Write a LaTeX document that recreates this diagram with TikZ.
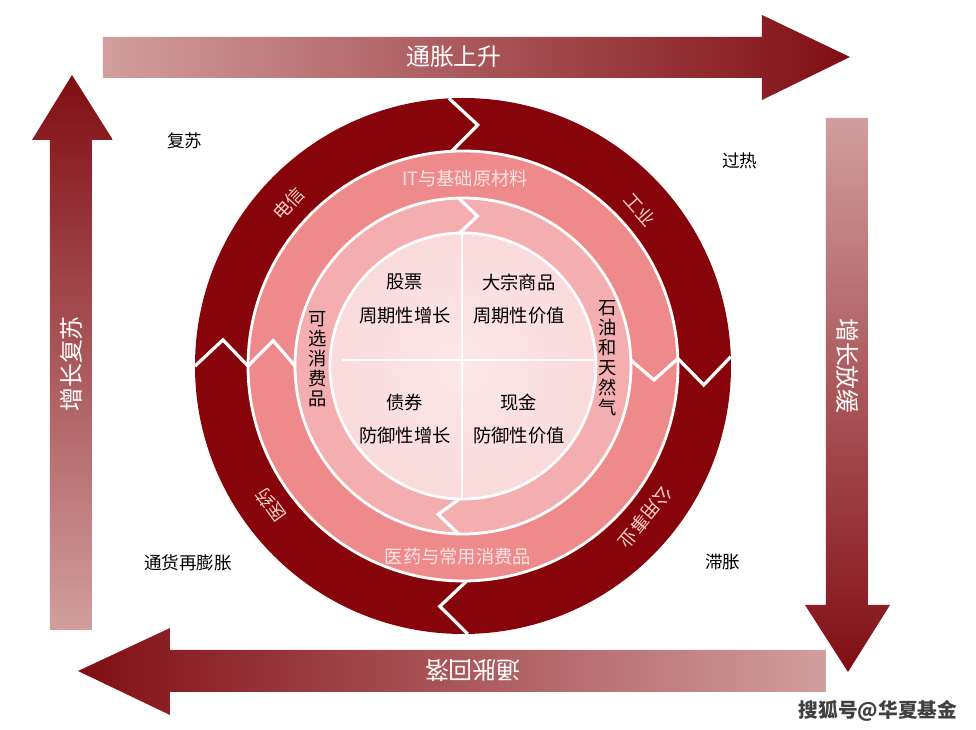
\documentclass[tikz,border=0pt]{standalone}
\usepackage{fontspec}
\newfontfamily\cjk{Noto Sans CJK SC}

\definecolor{ringdark}{RGB}{135,5,10}
\definecolor{ringmid}{RGB}{238,138,140}
\definecolor{ringin}{RGB}{244,174,176}
\definecolor{discpink}{RGB}{248,204,206}
\definecolor{disccore}{RGB}{252,232,232}
\definecolor{arrowlight}{RGB}{210,158,158}
\definecolor{arrowmid}{RGB}{178,112,115}
\definecolor{arrowdark}{RGB}{128,14,20}
\definecolor{ringtext}{RGB}{246,208,196}
\definecolor{bandtext}{RGB}{253,228,228}

\pgfdeclareradialshading{discglow}{\pgfpoint{0bp}{0bp}}{color(0bp)=(disccore); color(50bp)=(discpink)}

\begin{document}
\begin{tikzpicture}[
    x=0.025cm, y=0.025cm,
    quad/.style={font=\cjk\fontsize{13}{24}\selectfont, text=black, align=center},
    column/.style={font=\cjk\fontsize{13}{14.2}\selectfont, text=black, align=center},
    ringlabel/.style={font=\cjk\fontsize{13}{15}\selectfont, text=ringtext},
    bandlabel/.style={font=\cjk\fontsize{13}{15}\selectfont, text=bandtext},
    phase/.style={font=\cjk\fontsize{12.5}{15}\selectfont, text=black},
    flowlabel/.style={font=\cjk\fontsize{17}{20}\selectfont, text=white},
    notch/.style={draw=white, line width=2.3pt, line join=miter},
    sep/.style={draw=white, line width=2pt}
]
    \useasboundingbox (-463,-364) rectangle (513,366);

    % Flow arrows
    \shade[left color=arrowlight, middle color=arrowmid, right color=arrowdark]
        (-360,288) -- (299,288) -- (299,266) -- (387,309) -- (299,351) -- (299,329) -- (-360,329) -- cycle;
    \shade[top color=arrowlight, middle color=arrowmid, bottom color=arrowdark]
        (363,248) -- (405,248) -- (405,-239) -- (427,-239) -- (385,-306) -- (342,-239) -- (363,-239) -- cycle;
    \shade[right color=arrowlight, middle color=arrowmid, left color=arrowdark]
        (363,-284) -- (-293,-284) -- (-293,-262) -- (-385,-305) -- (-293,-349) -- (-293,-326) -- (363,-326) -- cycle;
    \shade[bottom color=arrowlight, middle color=arrowmid, top color=arrowdark]
        (-413,-264) -- (-371,-264) -- (-371,226) -- (-350,226) -- (-391,291) -- (-431,226) -- (-413,226) -- cycle;

    \node[flowlabel] (up) at (-9,309) {通胀上升};
    \node[flowlabel, rotate=-90] (slow) at (385,0) {增长放缓};
    \node[flowlabel, rotate=180] (down) at (10,-305) {通胀回落};
    \node[flowlabel, rotate=90] (recover) at (-392,2) {增长复苏};

    % Rings
    \fill[ringdark, even odd rule] (0,0) circle (268) (0,0) circle (215);
    \fill[ringmid, even odd rule] (0,0) circle (215) (0,0) circle (168);
    \fill[ringin, even odd rule] (0,0) circle (168) (0,0) circle (133);
    \shade[shading=discglow] (0,0) circle (133);
    \draw[sep] (0,0) circle (215) (0,0) circle (168) (0,0) circle (133);

    % Notches
    \draw[notch] (93:268) -- (86.5:241.5) -- (93:215);
    \draw[notch] (180:268) -- (173.8:241.5) -- (180:215);
    \draw[notch] (2:268) -- (-4.5:241.5) -- (2:215);
    \draw[notch] (271:268) -- (264.5:241.5) -- (271:215);
    \draw[notch] (180:215) -- (172.4:191.5) -- (180:168);
    \draw[notch] (2:215) -- (-4.2:191.5) -- (2:168);
    \draw[notch] (91.5:168) -- (84.5:150.5) -- (91.5:133);
    \draw[notch] (268.5:168) -- (260.5:150.5) -- (268.5:133);

    % Quadrants
    \draw[sep] (-121,6) -- (132,6);
    \draw[sep] (-1,133) -- (-1,-132);
    \node[quad] (stock) at (-58,67) {股票\\周期性增长};
    \node[quad] (commod) at (56,67) {大宗商品\\周期性价值};
    \node[quad] (bond) at (-58,-53) {债券\\防御性增长};
    \node[quad] (cash) at (56,-53) {现金\\防御性价值};

    % Sector labels
    \node[column] (consumer) at (-145,7) {可\\选\\消\\费\\品};
    \node[column] (energy) at (145,8) {石\\油\\和\\天\\然\\气};
    \node[bandlabel] (itmat) at (2,187) {IT与基础原材料};
    \node[bandlabel] (staples) at (-5,-191) {医药与常用消费品};
    \node[ringlabel, rotate=47] (telecom) at (137:238) {电信};
    \node[ringlabel, rotate=-48.5] (industry) at (41.5:236) {工业};
    \node[ringlabel, rotate=-129.7] (utility) at (-39.7:237) {公用事业};
    \node[ringlabel, rotate=126] (pharma) at (216:237) {医药};

    % Phases
    \node[phase] (revival) at (-278,225) {复苏};
    \node[phase] (overheat) at (277,205) {过热};
    \node[phase] (reflation) at (-275,-197) {通货再膨胀};
    \node[phase] (stagfl) at (260,-196) {滞胀};

    \node[font=\cjk\bfseries\fontsize{14}{16}\selectfont, text=black!75] (mark) at (415,-345) {搜狐号@华夏基金};
\end{tikzpicture}
\end{document}
